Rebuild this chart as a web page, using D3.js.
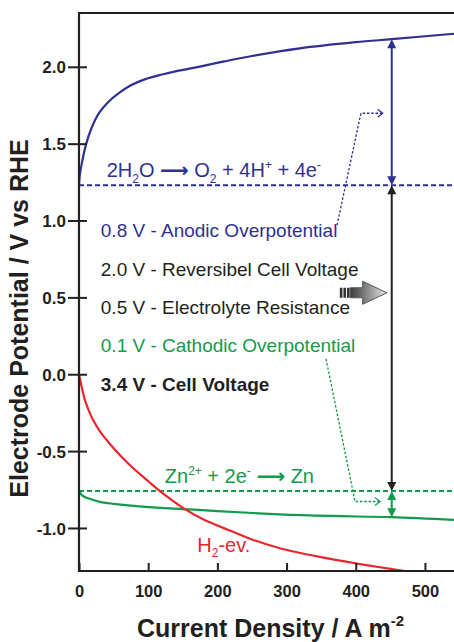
<!DOCTYPE html>
<html>
<head>
<meta charset="utf-8">
<script src="https://cdn.jsdelivr.net/npm/d3@7"></script>
<style>
  body { margin: 0; background: #fff; }
  svg { display: block; font-family: "Liberation Sans", Arial, sans-serif; }
</style>
</head>
<body>
<svg id="chart" width="454" height="642"></svg>
<script>
// current density (A m-2) and potentials (V vs RHE)
const jAnodic = [0, 1, 4, 10.5, 18, 29, 42, 58, 75, 96, 120, 144, 173, 210, 250, 319, 400, 452, 542];
const vAnodic = [1.23, 1.29, 1.37, 1.50, 1.60, 1.70, 1.77, 1.83, 1.88, 1.92, 1.95, 1.975, 2.00, 2.035, 2.07, 2.12, 2.16, 2.18, 2.215];

const jH2 = [0, 4, 8.7, 15, 20, 30, 45, 60, 78, 100, 117, 152, 180, 217, 250, 289, 350, 400, 471];
const vH2 = [0, -0.085, -0.17, -0.245, -0.295, -0.37, -0.455, -0.53, -0.61, -0.695, -0.76, -0.874, -0.945, -1.015, -1.075, -1.13, -1.19, -1.23, -1.28];

const jZn = [0, 3, 7, 15, 30, 50, 100, 150, 200, 289, 363, 452, 542];
const vZn = [-0.76, -0.78, -0.795, -0.81, -0.83, -0.843, -0.865, -0.877, -0.89, -0.911, -0.922, -0.93, -0.948];

const eO2 = 1.23;    // reversible anode potential
const eZn = -0.76;   // reversible cathode potential
const jMarker = 452; // where the voltage arrows sit

const xTicks = [0, 100, 200, 300, 400, 500];
const yTicks = [-1.0, -0.5, 0.0, 0.5, 1.0, 1.5, 2.0];

const budgetLabels = [
  '0.8 V - Anodic Overpotential',
  '2.0 V - Reversibel Cell Voltage',
  '0.5 V - Electrolyte Resistance',
  '0.1 V - Cathodic Overpotential',
  '3.4 V - Cell Voltage'
];

const BLUE = '#2e3192';
const RED = '#e8262b';
const GREEN = '#129b4b';
const INK = '#231f20';

const svg = d3.select('#chart');
const pLeft = 79, pRight = 454, pTop = 13, pBottom = 571;

const x = d3.scaleLinear().domain([0, 542]).range([pLeft, pRight]);
const y = d3.scaleLinear().domain([-1.28, 2.35]).range([pBottom, pTop]);

svg.append('clipPath').attr('id', 'plot')
  .append('rect').attr('x', pLeft).attr('y', pTop)
  .attr('width', pRight - pLeft).attr('height', pBottom - pTop);

const plot = svg.append('g').attr('clip-path', 'url(#plot)');

const line = d3.line()
  .x(d => x(d[0]))
  .y(d => y(d[1]))
  .curve(d3.curveCatmullRom.alpha(0.5));

// reversible potentials
[[eO2, BLUE], [eZn, GREEN]].forEach(([v, c]) => {
  plot.append('line')
    .attr('x1', x(0)).attr('x2', pRight)
    .attr('y1', y(v)).attr('y2', y(v))
    .attr('stroke', c).attr('stroke-width', 2)
    .attr('stroke-dasharray', '5,3');
});

// polarisation curves
[[jAnodic, vAnodic, BLUE], [jZn, vZn, GREEN], [jH2, vH2, RED]].forEach(([js, vs, c]) => {
  plot.append('path')
    .datum(js.map((j, i) => [j, vs[i]]))
    .attr('fill', 'none')
    .attr('stroke', c)
    .attr('stroke-width', 2.2)
    .attr('d', line);
});

// filled arrow head, tip at (px, py), dir -1 = up, +1 = down
const head = (px, py, dir, c) => {
  const L = 9, W = 4.5;
  svg.append('path')
    .attr('d', `M${px},${py} L${px - W},${py - dir * L} L${px + W},${py - dir * L} Z`)
    .attr('fill', c);
};

const doubleArrow = (v1, v2, c) => {
  const px = x(jMarker);
  const yTop = y(v2), yBot = y(v1);
  svg.append('line')
    .attr('x1', px).attr('x2', px)
    .attr('y1', yTop + 6).attr('y2', yBot - 6)
    .attr('stroke', c).attr('stroke-width', 2);
  head(px, yTop, -1, c);
  head(px, yBot, 1, c);
};

const anodeAtMarker = vAnodic[jAnodic.indexOf(jMarker)];
const zincAtMarker = vZn[jZn.indexOf(jMarker)];
doubleArrow(eO2, anodeAtMarker, BLUE);
doubleArrow(eZn, eO2, INK);
doubleArrow(zincAtMarker, eZn, GREEN);

// dotted leader lines with open arrow tips
const leader = (pts, c) => {
  svg.append('path')
    .attr('d', d3.line()(pts.map(p => [x(p[0]), y(p[1])])))
    .attr('fill', 'none').attr('stroke', c)
    .attr('stroke-width', 1.3).attr('stroke-dasharray', '2.5,1.8');
  const [ex, ey] = [x(pts[pts.length - 1][0]), y(pts[pts.length - 1][1])];
  svg.append('path')
    .attr('d', `M${ex - 5},${ey - 4} L${ex},${ey} L${ex - 5},${ey + 4}`)
    .attr('fill', 'none').attr('stroke', c).attr('stroke-width', 1.3);
};
leader([[373, 0.97], [407.5, 1.698], [439, 1.698]], BLUE);
leader([[357, 0.10], [399, -0.828], [435, -0.828]], GREEN);

// grey block arrow pointing at the cell voltage
{
  const cy = y(0.53);
  const x0 = x(377), x1 = x(410), x2 = x(445);
  const defs = svg.append('defs');
  const grad = defs.append('linearGradient').attr('id', 'blk')
    .attr('x1', '0%').attr('x2', '100%');
  grad.append('stop').attr('offset', '0%').attr('stop-color', '#3a3a3a');
  grad.append('stop').attr('offset', '100%').attr('stop-color', '#e6e6e6');
  [0, 3.6, 7.2].forEach(dx => {
    svg.append('rect').attr('x', x0 + dx).attr('y', cy - 5)
      .attr('width', 2.6).attr('height', 10).attr('fill', '#333');
  });
  svg.append('path')
    .attr('d', `M${x0 + 10.5},${cy - 5} L${x1},${cy - 5} L${x1},${cy - 11.5} L${x2},${cy} L${x1},${cy + 11.5} L${x1},${cy + 5} L${x0 + 10.5},${cy + 5} Z`)
    .attr('fill', 'url(#blk)').attr('stroke', '#555').attr('stroke-width', 1);
}

// axes
const yAxis = svg.append('g')
  .attr('transform', `translate(${pLeft},0)`)
  .call(d3.axisLeft(y).tickValues(yTicks).tickSize(11).tickPadding(2)
    .tickFormat(d => d.toFixed(1)));
yAxis.select('.domain').remove();
yAxis.selectAll('.tick line').attr('x1', 8).attr('stroke', INK).attr('stroke-width', 2);
yAxis.selectAll('.tick text')
  .attr('fill', INK).attr('font-size', 17).attr('font-weight', 'bold')
  .attr('font-family', '"Liberation Sans", Arial, sans-serif').attr('dy', '0.36em');

const xAxis = svg.append('g')
  .attr('transform', `translate(0,${pBottom})`)
  .call(d3.axisBottom(x).tickValues(xTicks).tickSize(-8).tickFormat(d3.format('d')));
xAxis.select('.domain').remove();
xAxis.selectAll('.tick line').attr('stroke', INK).attr('stroke-width', 2);
xAxis.selectAll('.tick text')
  .attr('fill', INK).attr('font-size', 16.5).attr('font-weight', 'bold')
  .attr('font-family', '"Liberation Sans", Arial, sans-serif')
  .attr('y', 26).attr('dy', 0);

// frame: left, bottom, top
[[pLeft, pTop, pLeft, pBottom + 1], [pLeft - 1, pBottom, pRight, pBottom], [pLeft - 1, pTop, pRight, pTop]].forEach(([a, b, c, d]) => {
  svg.append('line').attr('x1', a).attr('y1', b).attr('x2', c).attr('y2', d)
    .attr('stroke', INK).attr('stroke-width', 2.2);
});

// text with sub/superscripts: parts are [text, 'sub'|'sup'|'arrow'|null]
const richText = (tx, ty, parts, c, size, weight) => {
  const t = svg.append('text').attr('x', tx).attr('y', ty)
    .attr('fill', c).attr('font-size', size).attr('font-weight', weight || 'normal');
  let shift = 0;
  parts.forEach(([s, kind]) => {
    const small = kind === 'sub' || kind === 'sup';
    const target = kind === 'sub' ? size * 0.28 : kind === 'sup' ? -size * 0.42 : 0;
    const ts = t.append('tspan')
      .attr('dy', target - shift)
      .attr('font-size', small ? size * 0.6 : size)
      .text(s);
    if (kind === 'arrow') ts.attr('font-family', '"DejaVu Sans", sans-serif').attr('font-weight', 'bold');
    shift = target;
  });
  return t;
};

richText(x(40), 177, [['2H'], ['2', 'sub'], ['O '], ['\u27f6', 'arrow'], [' O'], ['2', 'sub'], [' + 4H'], ['+', 'sup'], [' + 4e'], ['-', 'sup']], BLUE, 20);
richText(x(124), 483.3, [['Zn'], ['2+', 'sup'], [' + 2e'], ['-', 'sup'], [' '], ['\u27f6', 'arrow'], [' Zn']], GREEN, 20);
richText(x(171), 551.7, [['H'], ['2', 'sub'], ['-ev.']], RED, 20);

const labelColors = [BLUE, INK, INK, GREEN, INK];
budgetLabels.forEach((s, i) => {
  svg.append('text')
    .attr('x', x(31.5)).attr('y', 237.3 + i * 38.35)
    .attr('fill', labelColors[i])
    .attr('font-size', 19)
    .attr('font-weight', i === budgetLabels.length - 1 ? 'bold' : 'normal')
    .text(s);
});

// axis titles
svg.append('text')
  .attr('transform', 'translate(28,318.5) rotate(-90)')
  .attr('text-anchor', 'middle')
  .attr('fill', INK).attr('font-size', 25).attr('font-weight', 'bold')
  .text('Electrode Potential / V vs RHE');

richText(137, 636.5, [['Current Density / A m'], ['-2', 'sup']], INK, 25, 'bold');
</script>
</body>
</html>
